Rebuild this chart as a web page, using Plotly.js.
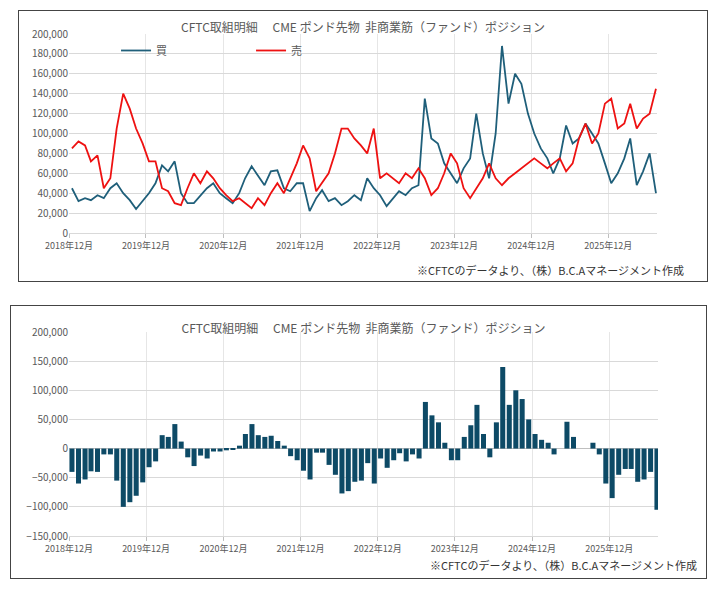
<!DOCTYPE html>
<html><head><meta charset="utf-8">
<script src="https://cdn.plot.ly/plotly-3.0.1.min.js"></script>
<style>
body{margin:0;background:#fff;width:709px;height:589px;position:relative;overflow:hidden;font-family:"Noto Sans CJK JP";}
.box{position:absolute;border:1px solid #444;box-sizing:border-box;}
</style></head><body>
<div id="c1" class="box" style="left:18px;top:10px;width:690px;height:272px"></div>
<div id="c2" class="box" style="left:10px;top:305px;width:697px;height:274px"></div>
<script>
const months = [];
for (let y = 2018, m = 12; !(y === 2026 && m === 8); ) {
  months.push(y + '-' + String(m).padStart(2, '0') + '-15');
  m++; if (m > 12) { m = 1; y++; }
}
// 買 (long) monthly, Dec 2018 - Jul 2026
const buy = [45000,32000,35000,33000,38000,35000,45000,50000,40000,33000,24000,32000,
  40000,50000,68000,62000,72000,40000,30000,30000,38000,45000,50000,40000,
  35000,30000,40000,55000,67000,58000,48000,62000,63000,45000,42000,50000,
  50000,22000,35000,43000,32000,35000,28000,32000,38000,33000,55000,45000,
  38000,27000,35000,42000,38000,45000,48000,135000,95000,90000,70000,60000,
  50000,65000,75000,120000,80000,55000,100000,188000,130000,160000,150000,120000,
  100000,85000,75000,60000,75000,108000,90000,95000,110000,100000,90000,70000,
  50000,60000,75000,95000,48000,62000,80000,40000];
// 売 (short)
const sell = [85000,92000,88000,72000,78000,45000,55000,105000,140000,125000,105000,90000,
  72000,72000,45000,42000,30000,28000,45000,60000,50000,62000,55000,45000,
  38000,32000,35000,30000,25000,35000,28000,40000,50000,40000,55000,70000,
  88000,75000,42000,50000,60000,80000,105000,105000,95000,88000,80000,105000,
  55000,60000,55000,50000,60000,55000,65000,55000,38000,45000,60000,80000,
  70000,45000,35000,45000,55000,70000,55000,48000,55000,60000,65000,70000,
  75000,70000,65000,70000,75000,62000,70000,95000,110000,90000,100000,130000,
  135000,105000,110000,130000,105000,115000,120000,145000];
const net = buy.map((v, i) => v - sell[i]);
const tickDates = ['2018-12-01','2019-12-01','2020-12-01','2021-12-01','2022-12-01','2023-12-01','2024-12-01','2025-12-01'];
const tickText = ['2018年12月','2019年12月','2020年12月','2021年12月','2022年12月','2023年12月','2024年12月','2025年12月'];
const titleText = 'CFTC取組明細　 CME ポンド先物  非商業筋（ファンド）ポジション';
const noteText = '※CFTCのデータより、（株）B.C.Aマネージメント作成';
const F = '"Noto Sans CJK JP", sans-serif';
const xax = {type:'date', range:['2018-12-01','2026-07-20'], tickvals:tickDates, ticktext:tickText,
  tickfont:{size:9,color:'#595959'}, showgrid:true, gridcolor:'#e6e6e6', zeroline:false,
  showline:true, linecolor:'#d9d9d9', ticks:'outside', ticklen:4, tickcolor:'#bfbfbf'};
Plotly.newPlot('c1', [
  {x:months, y:buy, type:'scatter', mode:'lines', name:'買', line:{color:'#1f5f7a', width:1.8}},
  {x:months, y:sell, type:'scatter', mode:'lines', name:'売', line:{color:'#ee1111', width:1.8}}
], {
  width:688, height:270, margin:{l:50,r:50,t:23,b:48}, paper_bgcolor:'#fff', plot_bgcolor:'#fff',
  font:{family:F, color:'#595959'},
  title:{text:titleText, font:{size:12,color:'#595959'}, x:0.5, xref:'paper', y:0.955, yref:'container'},
  xaxis:xax,
  yaxis:{range:[0,200000], dtick:20000, tickformat:',d', tickfont:{size:10,color:'#595959'}, gridcolor:'#d9d9d9', zeroline:false},
  legend:{orientation:'h', x:0.08, y:0.99, xanchor:'left', font:{size:11,color:'#595959'}, bgcolor:'rgba(0,0,0,0)', entrywidth:90},
  annotations:[{text:noteText, xref:'paper', yref:'paper', x:1.05, y:-0.235, xanchor:'right', yanchor:'bottom', showarrow:false, font:{size:11,color:'#333'}}]
}, {displayModeBar:false});
Plotly.newPlot('c2', [
  {x:months, y:net, type:'bar', marker:{color:'#0d4a66', line:{width:0}}, showlegend:false}
], {
  width:695, height:272, margin:{l:58,r:48,t:26,b:42}, paper_bgcolor:'#fff', plot_bgcolor:'#fff',
  bargap:0.15, font:{family:F, color:'#595959'},
  title:{text:titleText, font:{size:12,color:'#595959'}, x:0.5, xref:'paper', y:0.93, yref:'container'},
  xaxis:xax,
  yaxis:{range:[-150000,200000], dtick:50000, tickformat:',d', tickfont:{size:10,color:'#595959'}, gridcolor:'#d9d9d9', zeroline:true, zerolinecolor:'#bfbfbf'},
  annotations:[{text:noteText, xref:'paper', yref:'paper', x:1.07, y:-0.19, xanchor:'right', yanchor:'bottom', showarrow:false, font:{size:11,color:'#333'}}]
}, {displayModeBar:false});
</script></body></html>
